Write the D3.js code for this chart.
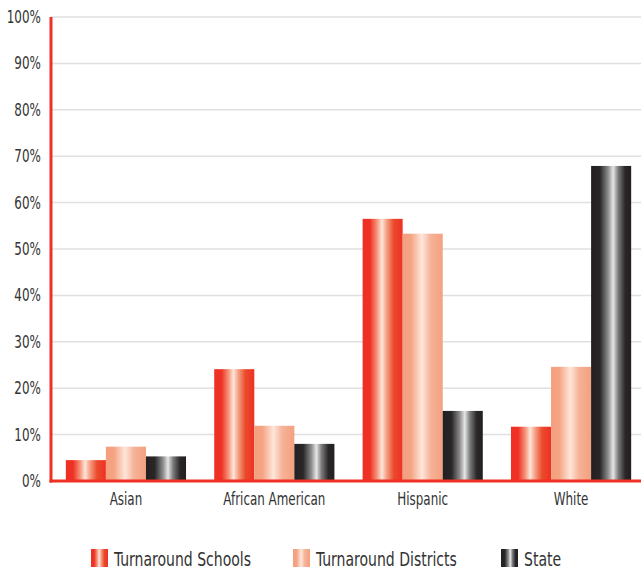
<!DOCTYPE html>
<html>
<head>
<meta charset="utf-8">
<script src="https://cdn.jsdelivr.net/npm/d3@7"></script>
<style>
  body { margin: 0; background: #fff; }
  text { font-family: "Liberation Sans Narrow", "DejaVu Sans Condensed", "Roboto Condensed", sans-serif; fill: #333; }
</style>
</head>
<body>
<div id="chart"></div>
<script>
// data
const categories = ["Asian", "African American", "Hispanic", "White"];
const seriesNames = ["Turnaround Schools", "Turnaround Districts", "State"];
const turnaroundSchools = [4.5, 24.1, 56.5, 11.7];
const turnaroundDistricts = [7.4, 11.9, 53.3, 24.6];
const stateValues = [5.3, 8.0, 15.1, 67.9];
const yTicks = [0, 10, 20, 30, 40, 50, 60, 70, 80, 90, 100];

const seriesValues = [turnaroundSchools, turnaroundDistricts, stateValues];

const width = 641, height = 572;
const margin = {top: 17, right: -5, bottom: 91, left: 51};
const squeeze = 0.78; // narrow the text to look condensed

const svg = d3.select("#chart").append("svg")
    .attr("width", width)
    .attr("height", height);

// gradients for the cylinder look
const defs = svg.append("defs");
const gradStops = [
    [["0%", "#ee3124"], ["18%", "#ee3124"], ["36%", "#f6957a"], ["48%", "#fde6da"], ["60%", "#f6a085"], ["78%", "#ea4a2c"], ["100%", "#ee3124"]],
    [["0%", "#f4a07f"], ["20%", "#f4a383"], ["48%", "#fee6da"], ["70%", "#f6b298"], ["100%", "#f4a07f"]],
    [["0%", "#231f20"], ["22%", "#2a2728"], ["42%", "#8a8a8c"], ["55%", "#e6e6e6"], ["68%", "#7a7a7c"], ["85%", "#2a2728"], ["100%", "#231f20"]]
];
gradStops.forEach((stops, i) => {
    const g = defs.append("linearGradient")
        .attr("id", "grad" + i)
        .attr("x1", "0%").attr("x2", "100%")
        .attr("y1", "0%").attr("y2", "0%");
    stops.forEach(s => g.append("stop").attr("offset", s[0]).attr("stop-color", s[1]));
});

// scales
const x0 = d3.scaleBand()
    .domain(categories)
    .range([margin.left, width - margin.right])
    .paddingInner(0.19)
    .paddingOuter(0.1);

const x1 = d3.scaleBand()
    .domain(d3.range(seriesNames.length))
    .range([0, x0.bandwidth()]);

const y = d3.scaleLinear()
    .domain([0, 100])
    .range([height - margin.bottom, margin.top]);

// gridlines
svg.append("g")
    .selectAll("line")
    .data(yTicks)
    .join("line")
    .attr("x1", margin.left)
    .attr("x2", width)
    .attr("y1", d => y(d))
    .attr("y2", d => y(d))
    .attr("stroke", "#e0e0e0")
    .attr("stroke-width", 1.5);

// y labels
const yAxis = d3.axisLeft(y).tickValues(yTicks).tickFormat(d => d + "%").tickSize(0).tickPadding(13);
const yg = svg.append("g")
    .attr("transform", "translate(" + margin.left + ",0)")
    .call(yAxis);
yg.select(".domain").remove();
yg.selectAll("text")
    .style("font-size", "17px")
    .attr("transform", "scale(" + squeeze + ",1)");

// bars
const groups = svg.append("g")
    .selectAll("g")
    .data(categories)
    .join("g")
    .attr("transform", d => "translate(" + x0(d) + ",0)");

groups.selectAll("rect")
    .data((d, ci) => seriesValues.map((vals, si) => ({si: si, v: vals[ci]})))
    .join("rect")
    .attr("x", d => x1(d.si))
    .attr("width", x1.bandwidth())
    .attr("y", d => y(d.v))
    .attr("height", d => y(0) - y(d.v))
    .attr("fill", d => "url(#grad" + d.si + ")");

// axis lines (red)
svg.append("line")
    .attr("x1", margin.left).attr("x2", margin.left)
    .attr("y1", y(100)).attr("y2", y(0) + 1.5)
    .attr("stroke", "#ee3124")
    .attr("stroke-width", 3);
svg.append("line")
    .attr("x1", margin.left - 1.5).attr("x2", width)
    .attr("y1", y(0)).attr("y2", y(0))
    .attr("stroke", "#ee3124")
    .attr("stroke-width", 3);

// x labels
const xAxis = d3.axisBottom(x0).tickSize(0).tickPadding(12);
const xg = svg.append("g")
    .attr("transform", "translate(0," + y(0) + ")")
    .call(xAxis);
xg.select(".domain").remove();
xg.selectAll("text")
    .style("font-size", "17px")
    .attr("transform", "scale(" + squeeze + ",1)");

// legend
const legendX = [91, 293, 501];
const legend = svg.append("g")
    .selectAll("g")
    .data(seriesNames)
    .join("g")
    .attr("transform", (d, i) => "translate(" + legendX[i] + ",549)");

legend.append("rect")
    .attr("width", 17)
    .attr("height", 18)
    .attr("fill", (d, i) => "url(#grad" + i + ")");

legend.append("text")
    .attr("transform", "translate(23,17) scale(" + squeeze + ",1)")
    .style("font-size", "20px")
    .text(d => d);
</script>
</body>
</html>
